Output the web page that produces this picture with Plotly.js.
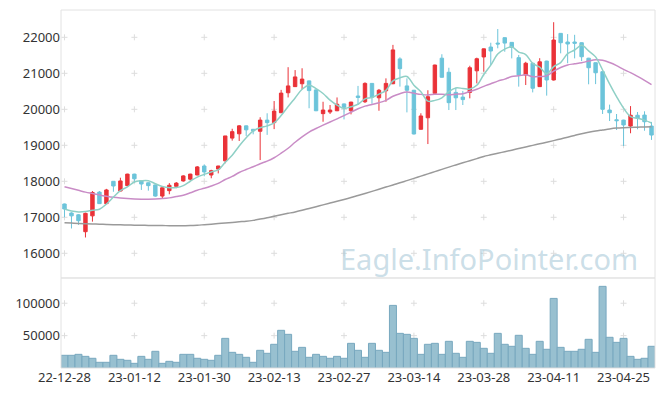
<!DOCTYPE html>
<html>
<head>
<meta charset="utf-8">
<script src="https://cdn.plot.ly/plotly-3.0.1.min.js"></script>
<style>html,body{margin:0;padding:0;background:#fff;}#chart{width:665px;height:396px;}</style>
</head>
<body>
<div id="chart"></div>
<script>
const dates = ["22-12-28","22-12-29","23-01-02","23-01-03","23-01-04","23-01-05","23-01-06","23-01-09","23-01-10","23-01-11",
"23-01-12","23-01-13","23-01-16","23-01-17","23-01-18","23-01-19","23-01-20","23-01-25","23-01-26","23-01-27",
"23-01-30","23-01-31","23-02-01","23-02-02","23-02-03","23-02-06","23-02-07","23-02-08","23-02-09","23-02-10",
"23-02-13","23-02-14","23-02-15","23-02-16","23-02-17","23-02-20","23-02-21","23-02-22","23-02-23","23-02-24",
"23-02-27","23-02-28","23-03-02","23-03-03","23-03-06","23-03-07","23-03-08","23-03-09","23-03-10","23-03-13",
"23-03-14","23-03-15","23-03-16","23-03-17","23-03-20","23-03-21","23-03-22","23-03-23","23-03-24","23-03-27",
"23-03-28","23-03-29","23-03-30","23-03-31","23-04-03","23-04-04","23-04-05","23-04-06","23-04-07","23-04-10",
"23-04-11","23-04-12","23-04-13","23-04-14","23-04-17","23-04-18","23-04-19","23-04-20","23-04-21","23-04-24",
"23-04-25","23-04-26","23-04-27","23-04-28","23-05-02"];

const openP = [17370,17120,17070,16600,17040,17700,17380,18000,17730,17880,
18200,18020,17960,17900,17590,17740,17860,18010,18060,18175,
18425,18175,18340,18570,19200,19320,19540,19445,19390,19700,
19630,19905,20460,20630,20710,20790,20540,19880,19925,19960,
20150,19960,20370,20210,20720,20320,20515,20710,21400,20650,
20530,19445,19765,20445,21420,21030,20470,20340,20470,21070,
21455,21730,21840,21990,21860,21435,20955,21280,20630,21340,
20815,22110,21870,21870,21850,21420,21295,21045,19980,19710,
19700,19535,19835,19840,19535];
const highP = [17380,17140,17090,17130,17730,17730,17790,18000,18100,18210,
18210,18030,17970,17910,17850,17950,17980,18170,18210,18425,
18470,18320,18430,19260,19460,19560,19550,19450,19780,19890,
20230,20540,21170,21090,21140,20800,20550,20210,20120,20330,
20160,20210,20650,20750,20730,20565,20860,21790,21445,20860,
20540,19890,20530,21240,21530,21155,20600,20510,21210,21435,
21690,21850,22230,22000,21870,21510,21320,21290,21420,21350,
22420,22120,22090,22070,21860,21430,21300,21050,20130,19870,
19710,20090,19925,19945,19650];
const lowP = [17000,16690,16790,16440,16880,17370,17370,17710,17720,17870,
17960,17760,17740,17570,17530,17640,17810,17990,18020,18170,
18140,18085,18220,18500,19130,19120,19260,19305,18590,19290,
19450,19900,20330,20620,20555,20030,19950,19655,19870,19950,
19720,19860,20120,20175,20155,19960,20210,20700,20630,19915,
19300,19440,19035,20440,20880,19980,19980,20120,20305,20720,
21045,21230,21695,21600,21415,20630,20675,20470,20620,20380,
20800,21555,21280,21415,21340,20695,20700,19870,19675,19425,
18980,19335,19445,19405,19150];
const closeP = [17230,17040,16905,17110,17690,17380,17760,17870,18010,18200,
18070,17925,17880,17590,17820,17890,17950,18150,18200,18400,
18260,18295,18425,19260,19380,19540,19430,19400,19700,19630,
19950,20450,20650,20900,20840,20520,19960,19980,19980,20140,
20055,20200,20330,20720,20335,20530,20720,21650,21130,20530,
19315,19815,20350,21230,20890,20185,20320,20270,21155,21405,
21680,21620,21815,21840,21720,20955,21280,20585,21320,20815,
21925,21850,21815,21835,21460,21155,21015,20000,19905,19685,
19565,19835,19760,19655,19285];

const ma5 = [17230,17175,17150,17160,17195,17225,17369,17562,17742,17844,
17982,18015,18017,17933,17857,17821,17826,17880,18002,18118,
18192,18261,18316,18528,18724,18980,19207,19402,19490,19540,
19622,19826,20076,20316,20558,20672,20574,20440,20256,20116,
20023,20071,20141,20289,20328,20423,20527,20791,20873,20912,
20669,20488,20228,20248,20320,20494,20595,20579,20564,20667,
20966,21226,21535,21672,21735,21590,21522,21276,21172,20991,
21185,21299,21545,21648,21777,21623,21456,21093,20707,20352,
20034,19798,19750,19700,19619];
const ma20 = [17850,17800,17750,17700,17660,17620,17585,17555,17535,17520,
17510,17505,17505,17510,17520,17540,17575,17615,17680,17754,
17805,17868,17944,18051,18136,18244,18327,18404,18488,18560,
18654,18780,18919,19084,19235,19367,19467,19559,19648,19735,
19824,19920,20015,20088,20136,20185,20250,20362,20434,20479,
20447,20415,20400,20417,20419,20402,20420,20435,20494,20557,
20638,20709,20783,20839,20909,20930,20958,20905,20914,20928,
21059,21161,21234,21264,21293,21341,21376,21362,21300,21214,
21108,21019,20916,20807,20685];
const maLong = [16850,16840,16830,16822,16815,16808,16802,16796,16790,16786,
16782,16778,16775,16772,16770,16768,16767,16768,16770,16780,
16795,16810,16825,16842,16858,16875,16890,16915,16950,16988,
17030,17070,17110,17150,17195,17245,17295,17345,17395,17445,
17495,17548,17605,17662,17720,17780,17840,17900,17958,18020,
18082,18145,18207,18270,18332,18395,18455,18515,18572,18630,
18690,18735,18780,18822,18865,18910,18955,18998,19042,19085,
19130,19178,19226,19275,19322,19360,19395,19425,19455,19478,
19490,19498,19505,19512,19517];

const volume = [19600,19600,21100,18000,15000,8800,8800,19600,13400,11900,
7200,18000,13400,25800,7200,10300,8800,21100,21100,15000,
13400,11900,19600,45800,24200,21100,16500,8800,27300,22700,
36600,58200,52000,25800,31900,16500,21100,18000,15000,18000,
15000,38100,27300,16500,38100,27300,24200,96700,53500,52000,
45800,21100,36600,38100,21100,41200,22700,16500,41200,39600,
30400,22700,53500,36600,33500,50500,30400,21100,41200,28900,
107500,31900,25800,25800,28900,44300,24200,126100,47400,39600,
45800,18000,13400,15000,33500];

const xTickLabels = ["22-12-28","23-01-12","23-01-30","23-02-13","23-02-27","23-03-14","23-03-28","23-04-11","23-04-25"];
const priceTicks = [16000,17000,18000,19000,20000,21000,22000];
const volTicks = [50000,100000];

const FONT = 'Noto Sans, sans-serif';

// grid crosses ("+") at tick intersections, drawn as shapes below the data
const crossLine = {color:'#dddddd', width:1};
const shapes = [
  {type:'rect', xref:'paper', yref:'paper', x0:0, x1:1, y0:0.2514, y1:1, line:{color:'#e2e2e2', width:1}},
  {type:'rect', xref:'paper', yref:'paper', x0:0, x1:1, y0:0, y1:0.2514, line:{color:'#e2e2e2', width:1}}
];
function addCross(xc, yv, yref) {
  shapes.push({type:'line', layer:'below', xref:'x', yref:yref, xsizemode:'pixel', xanchor:xc,
               x0:-3, x1:3, y0:yv, y1:yv, line:crossLine});
  shapes.push({type:'line', layer:'below', xref:'x', yref:yref, ysizemode:'pixel', yanchor:yv,
               x0:xc, x1:xc, y0:-3, y1:3, line:crossLine});
}
xTickLabels.forEach(d => {
  const xi = dates.indexOf(d);
  priceTicks.forEach(p => addCross(xi, p, 'y'));
  volTicks.forEach(v => addCross(xi, v, 'y2'));
});

const traces = [
  {type:'bar', x:dates, y:volume, xaxis:'x', yaxis:'y2',
   marker:{color:'#98c0d0', line:{color:'#78a8bf', width:1}}, showlegend:false},
  {type:'scatter', mode:'lines', x:dates, y:maLong, xaxis:'x', yaxis:'y',
   line:{color:'#9a9a9a', width:1.5, shape:'spline', smoothing:1}, showlegend:false},
  {type:'scatter', mode:'lines', x:dates, y:ma20, xaxis:'x', yaxis:'y',
   line:{color:'#c98cc6', width:1.5, shape:'spline', smoothing:1}, showlegend:false},
  {type:'scatter', mode:'lines', x:dates, y:ma5, xaxis:'x', yaxis:'y',
   line:{color:'#8fd0c6', width:1.5, shape:'spline', smoothing:1}, showlegend:false},
  {type:'candlestick', x:dates, open:openP, high:highP, low:lowP, close:closeP, xaxis:'x', yaxis:'y',
   increasing:{line:{color:'#ea3238', width:1}, fillcolor:'#ea3238'},
   decreasing:{line:{color:'#6cc4da', width:1}, fillcolor:'#6cc4da'},
   whiskerwidth:0, showlegend:false}
];

const layout = {
  width:665, height:396,
  margin:{l:61, r:10, t:10, b:28},
  paper_bgcolor:'#fff', plot_bgcolor:'#fff',
  font:{family:FONT, size:13, color:'#333'},
  showlegend:false,
  bargap:0,
  xaxis:{type:'category', categoryorder:'array', categoryarray:dates, anchor:'y2', range:[-0.5,84.5],
    showgrid:false, zeroline:false,
    tickvals:xTickLabels, ticktext:xTickLabels, ticks:'', tickfont:{size:13, color:'#333'},
    rangeslider:{visible:false}, showline:false},
  yaxis:{domain:[0.2514,1], range:[15314,22759], tickvals:priceTicks, ticktext:priceTicks.map(String),
    showgrid:false, zeroline:false, ticks:'', tickfont:{size:13, color:'#333'}, showline:false},
  yaxis2:{domain:[0,0.2514], range:[0,139000], tickvals:volTicks, ticktext:volTicks.map(String),
    showgrid:false, zeroline:false, ticks:'', tickfont:{size:13, color:'#333'}, showline:false},
  shapes:shapes,
  annotations:[
    {text:'Eagle.InfoPointer.com', xref:'paper', yref:'paper', x:0.72, y:0.307, showarrow:false,
     xanchor:'center', yanchor:'middle', font:{family:FONT, size:29, color:'rgba(160,195,212,0.55)'}}
  ]
};

Plotly.newPlot('chart', traces, layout, {displayModeBar:false, staticPlot:true});
</script>
</body>
</html>
